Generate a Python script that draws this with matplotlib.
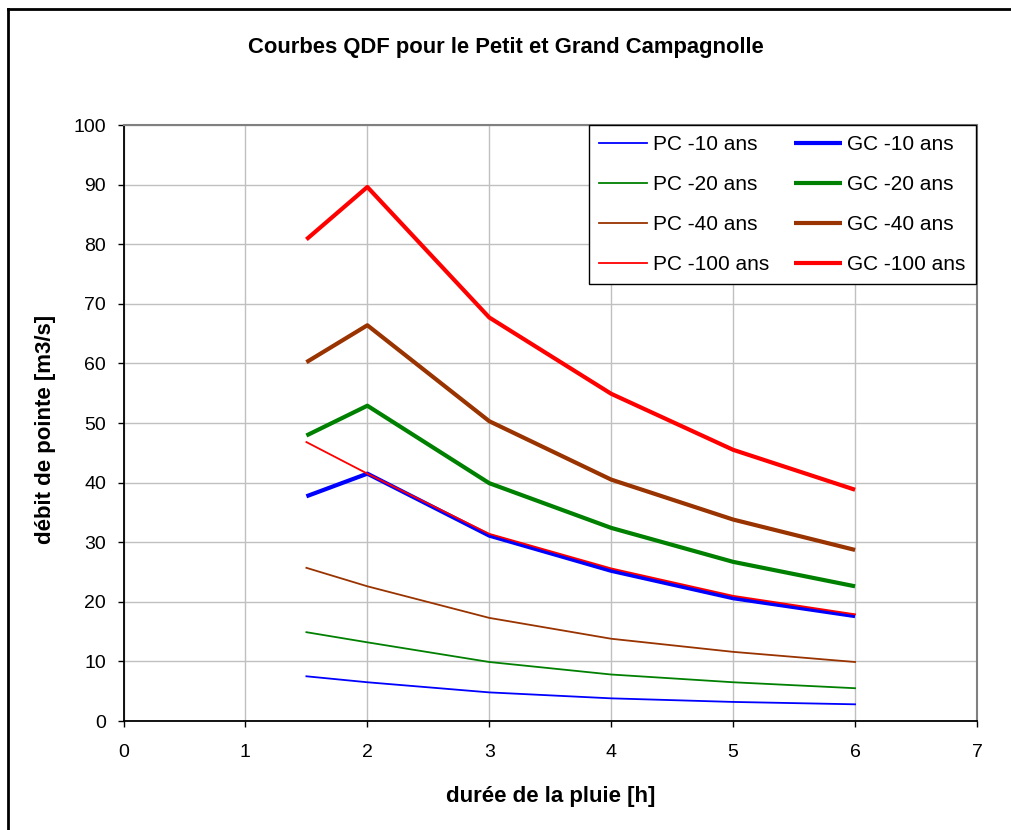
import matplotlib
matplotlib.use("Agg")
import matplotlib.pyplot as plt
from matplotlib.lines import Line2D

plt.rcParams['font.family'] = ['Liberation Sans', 'DejaVu Sans']

# Rain duration [h]
durations = [1.5, 2, 3, 4, 5, 6]

# Peak discharge [m3/s] – Petit Campagnolle (PC)
pc_10 = [7.5, 6.5, 4.8, 3.8, 3.2, 2.8]
pc_20 = [14.9, 13.2, 9.9, 7.8, 6.5, 5.5]
pc_40 = [25.7, 22.6, 17.3, 13.8, 11.6, 9.9]
pc_100 = [46.8, 41.5, 31.4, 25.6, 21.0, 17.9]

# Peak discharge [m3/s] – Grand Campagnolle (GC)
gc_10 = [37.7, 41.5, 31.1, 25.2, 20.6, 17.6]
gc_20 = [47.9, 52.9, 39.9, 32.4, 26.7, 22.6]
gc_40 = [60.2, 66.4, 50.3, 40.5, 33.8, 28.7]
gc_100 = [80.8, 89.6, 67.7, 54.9, 45.5, 38.8]

return_periods = ["10", "20", "40", "100"]
colors = ["#0000FF", "#008000", "#993300", "#FF0000"]

x_ticks = list(range(0, 8))
y_ticks = list(range(0, 101, 10))

W, H = 1011, 830
fig = plt.figure(figsize=(W / 100, H / 100), dpi=100)
ax = fig.add_axes([123.5 / W, 1 - 721 / H, (977 - 123.5) / W, (721 - 125) / H])

pc_series = [pc_10, pc_20, pc_40, pc_100]
gc_series = [gc_10, gc_20, gc_40, gc_100]

pc_handles, gc_handles = [], []
for rp, col, pc in zip(return_periods, colors, pc_series):
    h, = ax.plot(durations, pc, color=col, lw=1.3, label=f"PC -{rp} ans",
                 solid_joinstyle='round', zorder=3)
    pc_handles.append(h)
for rp, col, gc in zip(return_periods, colors, gc_series):
    h, = ax.plot(durations, gc, color=col, lw=3.0, label=f"GC -{rp} ans",
                 solid_joinstyle='round', solid_capstyle='butt', zorder=2)
    gc_handles.append(h)

ax.set_xlim(0, 7)
ax.set_ylim(0, 100)
ax.set_xticks(x_ticks)
ax.set_yticks(y_ticks)
ax.grid(True, color="#c0c0c0", lw=1.0, zorder=0)
ax.set_axisbelow(True)

for side in ("left", "bottom"):
    ax.spines[side].set_color("black")
    ax.spines[side].set_linewidth(1.3)
for side in ("top", "right"):
    ax.spines[side].set_color("#808080")
    ax.spines[side].set_linewidth(1.5)

ax.tick_params(axis='both', direction='out', length=4.5, width=1.0,
               labelsize=14, color="black")
ax.tick_params(axis='x', pad=12)
ax.tick_params(axis='y', pad=8)

ax.set_xlabel("durée de la pluie [h]", fontsize=16, fontweight='bold', va='center')
ax.xaxis.set_label_coords(0.5, (721 - 796) / 596)
ax.set_ylabel("débit de pointe [m3/s]", fontsize=16, fontweight='bold', va='center')
ax.yaxis.set_label_coords((46 - 123.5) / 853.5, (721 - 429) / 596)

fig.text(506 / W, 1 - 47 / H, "Courbes QDF pour le Petit et Grand Campagnolle",
         ha='center', va='center', fontsize=15.8, fontweight='bold')

leg = ax.legend(pc_handles + gc_handles,
                [h.get_label() for h in pc_handles + gc_handles],
                ncol=2, loc='upper right', bbox_to_anchor=(0.9985, 1.0),
                fontsize=15, frameon=True, fancybox=False, framealpha=1,
                edgecolor="black", borderaxespad=0, borderpad=0.5,
                handlelength=2.3, handletextpad=0.25, columnspacing=1.2,
                labelspacing=1.0)
leg.get_frame().set_linewidth(1.0)
leg.set_zorder(5)

# Outer chart frame (top and left edges)
fig.add_artist(Line2D([8 / W, 8 / W], [-0.01, 1 - 9 / H],
                      transform=fig.transFigure, color="black", lw=2.0))
fig.add_artist(Line2D([8 / W, 1.01], [1 - 9 / H, 1 - 9 / H],
                      transform=fig.transFigure, color="black", lw=2.0))

fig.savefig("out.png", dpi=100)
